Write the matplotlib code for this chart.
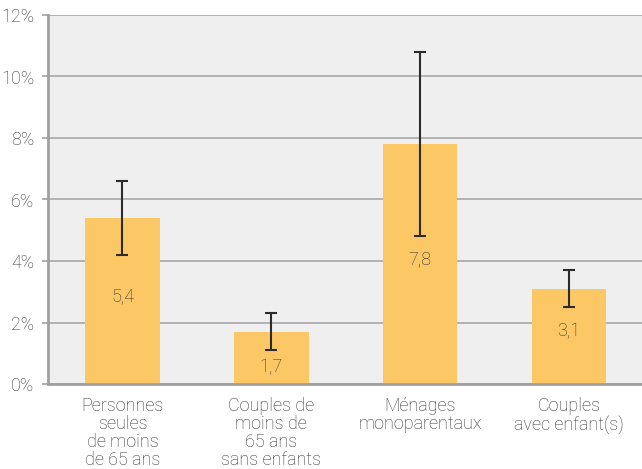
import matplotlib.pyplot as plt
import numpy as np

categories = [
    "Personnes\nseules\nde moins\nde 65 ans",
    "Couples de\nmoins de\n65 ans\nsans enfants",
    "Ménages\nmonoparentaux",
    "Couples\navec enfant(s)",
]
values = [5.4, 1.7, 7.8, 3.1]
err_low = [4.2, 1.1, 4.8, 2.5]
err_high = [6.6, 2.3, 10.8, 3.7]
value_labels = ["5,4", "1,7", "7,8", "3,1"]
# baseline of the value labels (the 1,7 one sits below its error bar)
label_y = [2.7, 0.39, 3.9, 1.55]
yticks = [0, 2, 4, 6, 8, 10, 12]

plt.rcParams['font.family'] = ['Roboto', 'DejaVu Sans']
text_col = '#333333'
fs = 13

fig = plt.figure(figsize=(6.42, 4.69), dpi=100)
ax = fig.add_axes([48 / 642, 85 / 469, 594 / 642, 369 / 469])
ax.set_facecolor('#efefef')

x = np.arange(len(values))
vals = np.array(values)
yerr = [vals - np.array(err_low), np.array(err_high) - vals]

ax.bar(x, vals, width=0.5, color='#fcc865', zorder=2)
ax.errorbar(x, vals, yerr=yerr, fmt='none', ecolor='#2b2b2b', elinewidth=1.5,
            capsize=4.5, capthick=1.5, zorder=3)

for xi, ly, lab in zip(x, label_y, value_labels):
    ax.text(xi, ly, lab, ha='center', va='baseline', fontsize=fs,
            color=text_col, fontweight='light', zorder=4)

ax.set_xlim(-0.5, 3.49)
ax.set_ylim(0, 12)
ax.set_yticks(yticks)
ax.set_yticklabels([f"{t}%" for t in yticks], fontsize=fs, color=text_col,
                   fontweight='light')
ax.set_xticks(x)
ax.set_xticklabels(categories, fontsize=fs, color=text_col, fontweight='light',
                   linespacing=1.02)
ax.tick_params(axis='x', length=0, pad=9)
ax.tick_params(axis='y', length=4, width=1.2, color='#a0a0a0', pad=6)

ax.yaxis.grid(True, color='#a8a8a8', linewidth=1.2, zorder=1)
ax.set_axisbelow(True)

for side in ['top', 'right']:
    ax.spines[side].set_visible(False)
for side in ['left', 'bottom']:
    ax.spines[side].set_color('#a0a0a0')
    ax.spines[side].set_linewidth(2)

fig.savefig('out.png', dpi=100)
